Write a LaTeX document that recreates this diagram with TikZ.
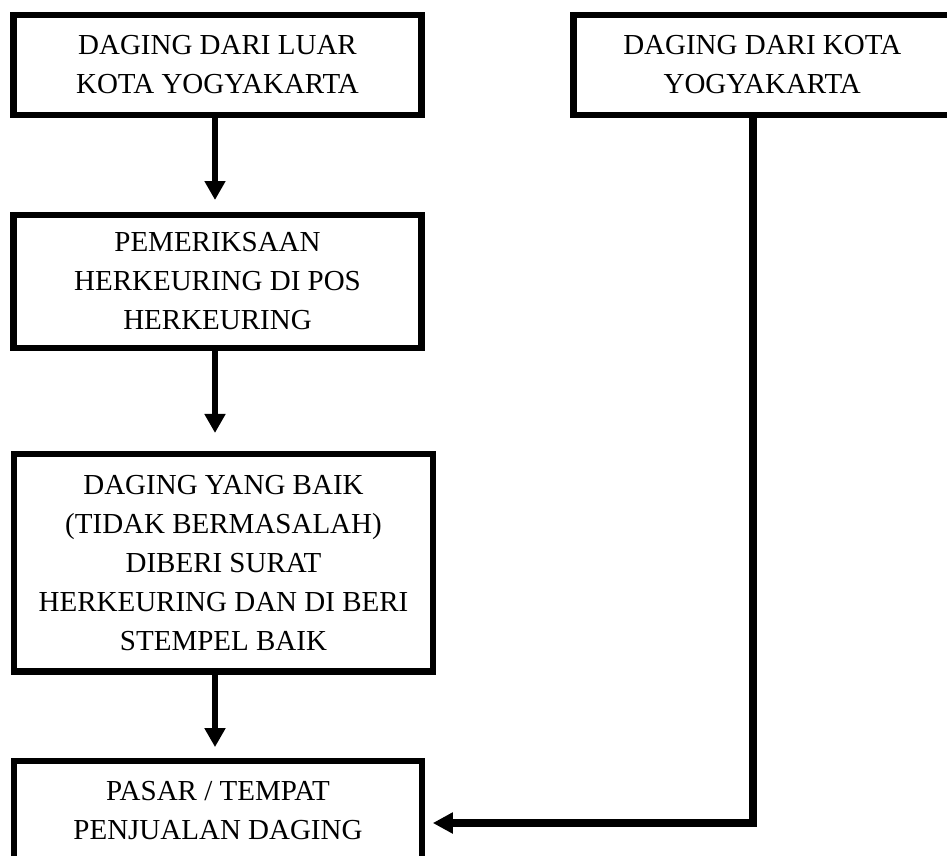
\documentclass[tikz,border=0pt]{standalone}
\usepackage{fontspec}
\setmainfont{Liberation Serif}
\usetikzlibrary{arrows.meta}
\begin{document}
\begin{tikzpicture}[x=1pt,y=-1pt,
  box/.style={draw=black, line width=6.6pt, inner sep=0pt, align=center,
    font=\fontsize{29}{39}\selectfont, fill=white},
  arr/.style={line width=6.8pt, -{Triangle[length=19pt,width=20pt]}},
  arrw/.style={line width=8pt, -{Triangle[length=20pt,width=20pt]}}]
\useasboundingbox (0,0) rectangle (947,855);
\clip (0,0) rectangle (947,855);
\fill[white] (0,0) rectangle (947,855);
\node[box, minimum width=408pt, minimum height=100pt] (b1) at (217.5,65)
  {DAGING DARI LUAR\\KOTA YOGYAKARTA};
\node[box, minimum width=408pt, minimum height=133pt] (b2) at (217.5,281.5)
  {PEMERIKSAAN\\HERKEURING DI POS\\HERKEURING};
\node[box, minimum width=419pt, minimum height=217.7pt] (b3) at (223.5,562.8)
  {DAGING YANG BAIK\\(TIDAK BERMASALAH)\\DIBERI SURAT\\HERKEURING DAN DI BERI\\STEMPEL BAIK};
\node[box, minimum width=408pt, minimum height=100pt] (b4) at (218,811)
  {PASAR / TEMPAT\\PENJUALAN DAGING};
\node[box, minimum width=407.5pt, minimum height=100pt] (b5) at (777.25,65)
  {DAGING DARI KOTA\hspace*{30pt}\\YOGYAKARTA\hspace*{30pt}};
\coordinate (ax) at (215,0);
\coordinate (rx) at (752.5,0);
\draw[arr, shorten >=11.7pt] (b1.south -| ax) -- (b2.north -| ax);
\draw[arr, shorten >=17.7pt] (b2.south -| ax) -- (b3.north -| ax);
\draw[arr, shorten >=10.6pt] (b3.south -| ax) -- (b4.north -| ax);
\draw[arrw, shorten >=7.5pt] (b5.south -| rx) |- ([yshift=-12pt]b4.east);
\end{tikzpicture}
\end{document}
